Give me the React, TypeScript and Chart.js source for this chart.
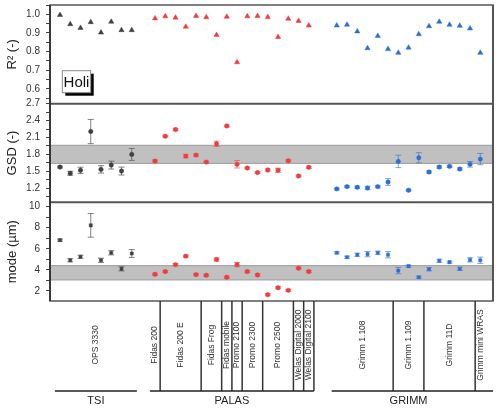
import { useEffect, useRef } from "react";
import { Chart, registerables } from "chart.js";
Chart.register(...registerables);

// ---------- data ----------
const groups = ["TSI", "PALAS", "GRIMM"];
const groupStart = [0, 9.27, 27];

const tsiSub = ["OPS 3330"];
const tsiSubCounts = [8];
const palasSub = ["Fidas 200", "Fidas 200 E", "Fidas Frog", "Fidas mobile", "Promo 2100", "Promo 2300", "Promo 2500", "Welas Digital 2000", "Welas Digital 2100"];
const palasSubCounts = [1, 4, 2, 1, 1, 2, 3, 1, 1];
const grimmSub = ["Grimm 1.108", "Grimm 1.109", "Grimm 11D", "Grimm mini WRAS"];
const grimmSubCounts = [6, 3, 5, 1];

const tsiR2 = [0.996, 0.947, 0.927, 0.958, 0.902, 0.96, 0.915, 0.915];
const palasR2 = [0.978, 0.989, 0.982, 0.933, 0.991, 0.984, 0.889, 0.987, 0.742, 0.989, 0.991, 0.985, 0.878, 0.976, 0.964, 0.94];
const grimmR2 = [0.94, 0.944, 0.908, 0.818, 0.884, 0.813, 0.793, 0.821, 0.893, 0.936, 0.96, 0.944, 0.938, 0.924, 0.793];

const tsiGsd = [1.576, 1.465, 1.518, 2.206, 1.535, 1.611, 1.505, 1.8];
const tsiGsdErr = [0.015, 0.035, 0.055, 0.215, 0.065, 0.07, 0.07, 0.106];
const palasGsd = [1.682, 2.123, 2.241, 1.77, 1.788, 1.664, 1.988, 2.305, 1.624, 1.558, 1.478, 1.523, 1.518, 1.687, 1.417, 1.571];
const palasGsdErr = [0.02, 0.015, 0.02, 0.03, 0.02, 0.015, 0.047, 0.015, 0.065, 0.015, 0.015, 0.02, 0.035, 0.015, 0.015, 0.02];
const grimmGsd = [1.188, 1.229, 1.218, 1.205, 1.229, 1.311, 1.676, 1.165, 1.74, 1.488, 1.576, 1.588, 1.541, 1.624, 1.717];
const grimmGsdErr = [0.015, 0.015, 0.02, 0.03, 0.02, 0.06, 0.11, 0.015, 0.09, 0.02, 0.02, 0.02, 0.02, 0.05, 0.1];

const tsiMode = [6.82, 4.91, 5.24, 8.22, 4.91, 5.62, 4.1, 5.55];
const tsiModeErr = [0.1, 0.15, 0.15, 1.12, 0.2, 0.2, 0.2, 0.37];
const palasMode = [3.58, 3.84, 4.5, 5.3, 3.55, 3.49, 4.98, 3.3, 4.5, 3.84, 3.52, 1.65, 2.31, 2.06, 4.16, 3.84];
const palasModeErr = [0.1, 0.1, 0.1, 0.1, 0.1, 0.1, 0.15, 0.1, 0.2, 0.1, 0.1, 0.1, 0.1, 0.1, 0.1, 0.1];
const grimmMode = [5.62, 5.2, 5.43, 5.49, 5.62, 5.43, 3.93, 4.35, 3.3, 4.06, 4.86, 4.73, 4.1, 4.95, 4.91];
const grimmModeErr = [0.1, 0.1, 0.15, 0.25, 0.15, 0.3, 0.3, 0.1, 0.1, 0.15, 0.15, 0.1, 0.15, 0.2, 0.3];

const gsdBand = [1.64, 1.96];
const modeBand = [3.05, 4.4];

const r2Ticks = { min: 0.52, max: 1.05, step: 0.05, major: 0.1, digits: 1 };
const gsdTicks = { min: 0.95, max: 2.7, step: 0.15, major: 0.3, digits: 1 };
const modeTicks = { min: 1.05, max: 10.4, step: 1, major: 2, digits: 0 };

// ---------- styles ----------
const FONT = "'Liberation Sans', Arial, sans-serif";
const groupColors = ["#404040", "#f03c3c", "#2a6fd6"];
const errColors = ["rgba(90,90,90,0.75)", "rgba(240,60,60,0.6)", "rgba(42,111,214,0.6)"];
const subNames = [tsiSub, palasSub, grimmSub];
const subCounts = [tsiSubCounts, palasSubCounts, grimmSubCounts];
const closeRight = [false, true, false];

const pts = (g: number, vals: number[]) => vals.map((v, i) => ({ x: groupStart[g] + i, y: v }));

function makeScale(t: typeof r2Ticks, title: string) {
  return {
    type: "linear" as const,
    position: "left" as const,
    stack: "panels",
    stackWeight: 1,
    min: t.min,
    max: t.max,
    afterFit: (s: any) => {
      s.width = 50;
      s.paddingTop = 0;
      s.paddingBottom = 0;
    },
    border: { display: false },
    grid: { drawOnChartArea: false, drawTicks: true, tickLength: 4, color: "#444", tickColor: "#444" },
    ticks: {
      stepSize: t.step,
      includeBounds: false,
      autoSkip: false,
      padding: 6,
      color: "#333",
      font: { family: FONT, size: 10 },
      callback: (v: any) => {
        const r = v / t.major;
        return Math.abs(r - Math.round(r)) < 1e-6 ? Number(v).toFixed(t.digits) : "";
      },
    },
    title: { display: true, text: title, color: "#222", font: { family: FONT, size: 13 }, padding: { top: 5, bottom: 0 } },
  };
}

const panelPlugin = {
  id: "panels",
  beforeDatasetsDraw(chart: any) {
    const { ctx, chartArea } = chart;
    const bands: [string, number[]][] = [["yGsd", gsdBand], ["yMode", modeBand]];
    ctx.save();
    bands.forEach(([id, b]) => {
      const s = chart.scales[id];
      const y1 = s.getPixelForValue(b[1]);
      const y2 = s.getPixelForValue(b[0]);
      ctx.fillStyle = "#c0c0c0";
      ctx.fillRect(chartArea.left, y1, chartArea.right - chartArea.left, y2 - y1);
      ctx.strokeStyle = "#a6a6a6";
      ctx.lineWidth = 1.2;
      ctx.beginPath();
      ctx.moveTo(chartArea.left, y1);
      ctx.lineTo(chartArea.right, y1);
      ctx.moveTo(chartArea.left, y2);
      ctx.lineTo(chartArea.right, y2);
      ctx.stroke();
    });
    // error bars
    chart.data.datasets.forEach((ds: any, i: number) => {
      if (!ds.errors) return;
      const meta = chart.getDatasetMeta(i);
      const ys = chart.scales[ds.yAxisID];
      ctx.strokeStyle = ds.errorColor;
      ctx.lineWidth = 1;
      ds.data.forEach((p: any, j: number) => {
        const e = ds.errors[j];
        const px = meta.data[j].x;
        const a = ys.getPixelForValue(p.y - e);
        const b = ys.getPixelForValue(p.y + e);
        ctx.beginPath();
        ctx.moveTo(px, a);
        ctx.lineTo(px, b);
        ctx.moveTo(px - 3, a);
        ctx.lineTo(px + 3, a);
        ctx.moveTo(px - 3, b);
        ctx.lineTo(px + 3, b);
        ctx.stroke();
      });
    });
    ctx.restore();
  },
  afterDraw(chart: any) {
    const { ctx, chartArea } = chart;
    const xs = chart.scales.x;
    const L = chartArea.left, R = chartArea.right;
    ctx.save();
    // frames
    ctx.strokeStyle = "#555";
    ctx.lineWidth = 1.5;
    ctx.strokeRect(L, chartArea.top, R - L, chartArea.bottom - chartArea.top);
    ctx.lineWidth = 2;
    ["yR2", "yGsd"].forEach((id) => {
      const s = chart.scales[id];
      ctx.beginPath();
      ctx.moveTo(L, s.bottom);
      ctx.lineTo(R, s.bottom);
      ctx.stroke();
    });
    ctx.beginPath();
    ctx.moveTo(R, chartArea.top);
    ctx.lineTo(R, chartArea.bottom);
    ctx.stroke();
    ctx.lineWidth = 1.5;
    ctx.strokeStyle = "#222";
    ctx.beginPath();
    ctx.moveTo(L, chartArea.top);
    ctx.lineTo(L, chartArea.bottom);
    ctx.stroke();

    // Holi box
    const bx = L + 12.3, by = chartArea.top + 65.7, bw = 28.4, bh = 22;
    ctx.fillStyle = "#000";
    ctx.fillRect(bx + 3, by + 3, bw, bh);
    ctx.fillStyle = "#fff";
    ctx.fillRect(bx, by, bw, bh);
    ctx.strokeStyle = "#888";
    ctx.lineWidth = 1;
    ctx.strokeRect(bx, by, bw, bh);
    ctx.fillStyle = "#111";
    ctx.font = `15px ${FONT}`;
    ctx.textAlign = "center";
    ctx.textBaseline = "middle";
    ctx.fillText("Holi", bx + bw / 2, by + bh / 2 + 1);

    // category labels
    const B = chartArea.bottom;
    const lineY = B + 90;
    groups.forEach((g, gi) => {
      const start = groupStart[gi];
      const counts = subCounts[gi];
      const total = counts.reduce((a, b) => a + b, 0);
      let cum = 0;
      counts.forEach((c, si) => {
        const cx = xs.getPixelForValue(start + cum + (c - 1) / 2);
        ctx.save();
        ctx.translate(cx, B + 44);
        ctx.rotate(-Math.PI / 2);
        ctx.fillStyle = "#333";
        ctx.font = `8.5px ${FONT}`;
        ctx.textAlign = "center";
        ctx.textBaseline = "middle";
        ctx.fillText(subNames[gi][si], 0, 0);
        ctx.restore();
        cum += c;
        const isLast = si === counts.length - 1;
        if (!isLast || closeRight[gi]) {
          const dx = xs.getPixelForValue(start + cum - 0.5);
          ctx.strokeStyle = "#333";
          ctx.lineWidth = 1.5;
          ctx.beginPath();
          ctx.moveTo(dx, B);
          ctx.lineTo(dx, lineY);
          ctx.stroke();
        }
      });
      const x1 = xs.getPixelForValue(start - 0.5);
      const x2 = gi === groups.length - 1 ? R : xs.getPixelForValue(start + total - 0.5);
      ctx.strokeStyle = "#222";
      ctx.lineWidth = 1.5;
      ctx.beginPath();
      ctx.moveTo(x1, lineY);
      ctx.lineTo(x2, lineY);
      ctx.stroke();
      ctx.fillStyle = "#222";
      ctx.font = `11px ${FONT}`;
      ctx.textAlign = "center";
      ctx.textBaseline = "middle";
      ctx.fillText(g, xs.getPixelForValue(start + (total - 1) / 2), lineY + 10);
    });
    ctx.restore();
  },
};

function ds(g: number, vals: number[], axis: string, style: string, radius: number, errs?: number[]) {
  return {
    data: pts(g, vals),
    yAxisID: axis,
    showLine: false,
    pointStyle: style,
    pointRadius: radius,
    pointBackgroundColor: groupColors[g],
    pointBorderColor: groupColors[g],
    pointBorderWidth: 0.5,
    errors: errs,
    errorColor: errColors[g],
  };
}

export default function App() {
  const ref = useRef<HTMLCanvasElement>(null);
  useEffect(() => {
    document.body.style.margin = "0";
    const chart = new Chart(ref.current!, {
      type: "scatter",
      data: {
        datasets: [
          ds(0, tsiR2, "yR2", "triangle", 3),
          ds(1, palasR2, "yR2", "triangle", 3),
          ds(2, grimmR2, "yR2", "triangle", 3),
          ds(0, tsiGsd, "yGsd", "circle", 2.2, tsiGsdErr),
          ds(1, palasGsd, "yGsd", "circle", 2.2, palasGsdErr),
          ds(2, grimmGsd, "yGsd", "circle", 2.2, grimmGsdErr),
          ds(0, tsiMode, "yMode", "rect", 2.2, tsiModeErr),
          ds(1, palasMode, "yMode", "circle", 2.2, palasModeErr),
          ds(2, grimmMode, "yMode", "rect", 2.2, grimmModeErr),
        ] as any,
      },
      options: {
        animation: false,
        responsive: false,
        devicePixelRatio: 1,
        layout: { padding: { left: 0, right: 7, top: 5, bottom: 108 } },
        plugins: { legend: { display: false }, tooltip: { enabled: false } },
        scales: {
          x: { type: "linear", display: false, min: -0.976, max: 42.24 },
          yMode: makeScale(modeTicks, "mode (µm)"),
          yGsd: makeScale(gsdTicks, "GSD (-)"),
          yR2: makeScale(r2Ticks, "R² (-)"),
        } as any,
      },
      plugins: [panelPlugin],
    });
    return () => chart.destroy();
  }, []);
  return (
    <div style={{ position: "absolute", left: 0, top: 0, width: 500, height: 409, background: "#fff" }}>
      <canvas ref={ref} width={500} height={409} style={{ width: 500, height: 409 }} />
    </div>
  );
}
